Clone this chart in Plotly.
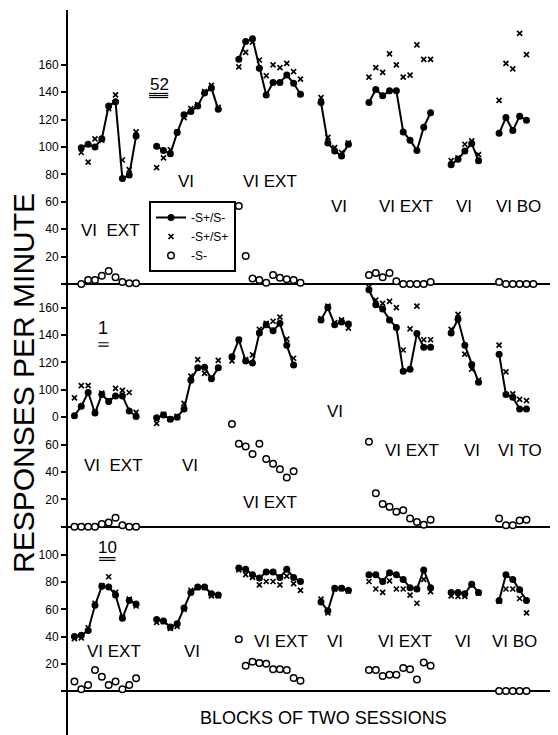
import plotly.graph_objects as go

FONT = "Liberation Sans, Arial, sans-serif"

# ---------------- Subject 52 (top panel) ----------------
P52_START = [1, 12, 24, 36, 43, 55, 62]
P52_SPSM = [
    [99.5, 102, 100, 106, 130, 133, 77, 79.5, 108],
    [100.5, 97.5, 95, 110.5, 123.5, 126, 130, 139.5, 143, 127.5],
    [164, 177, 179, 157.5, 138, 147, 147, 152.5, 146.5, 138.5],
    [132.5, 103, 97, 93.5, 102],
    [132.5, 142, 137.5, 141, 141, 111, 105, 97.5, 114.5, 125],
    [87, 91, 97, 102.5, 90],
    [110, 121.5, 112, 122.5, 119.5],
]
P52_SPSP = [
    [96, 89, 106, 105, 128, 138, 90.5, 83.5, 111],
    [85, 92, 98, 111, 121.5, 128, 131, 140.5, 145, 129],
    [158.5, 169, 176.5, 163.5, 152, 160, 158, 161, 155, 149.5],
    [136, 107, 99.5, 96, 103],
    [151, 158, 154.5, 168, 160, 151, 152.5, 174.5, 164, 164],
    [90, 92, 102, 104.5, 94.5],
    [134, 161, 157, 183, 167.5],
]
P52_SM_START = [1, 24, 43, 62]
P52_SM = [
    [0, 3, 3, 6, 9.5, 5, 1.5, 0.5, 0.5],
    [57, 20.5, 4, 3, 1, 6.5, 4.5, 3.5, 3, 1],
    [6.5, 8, 5, 8, 2, 0, 0, 0, 0, 1.5],
    [1.5, 0, 0, 0, 0, 0],
]

# ---------------- Subject 1 (middle panel) ----------------
P1_START = [0, 12, 23, 36, 43, 55, 62]
P1_SPSM = [
    [81, 88, 98, 83, 96.5, 91.5, 95.5, 95.5, 84.5, 80.5],
    [79.5, 81.5, 78.5, 80, 86, 107, 116, 116.5, 108, 116],
    [124, 136.5, 121, 119.5, 141.5, 147.5, 143, 148.5, 132.5, 118],
    [151, 160, 147.5, 149.5, 148],
    [173, 162, 159, 151, 145.5, 113.5, 115, 141, 131, 131],
    [141.5, 151.5, 132.5, 118.5, 105.5],
    [126, 96.5, 94.5, 86, 86],
]
P1_SPSP = [
    [94, 103, 103, 84, 97.5, 92, 101, 99.5, 98, 83.5],
    [75.5, 82, 78.5, 80.5, 90, 110, 122, 112, 108.5, 121.5],
    [121, 136.5, 122, 125.5, 144, 148.5, 150, 153, 137, 123],
    [152, 161, 149, 151, 145],
    [175, 165.5, 163, 164.5, 160, 129, 144.5, 161, 136.5, 136.5],
    [144, 155, 126, 115, 107],
    [132.5, 113, 97, 93, 92],
]
P1_SM_START = [0, 23, 43, 62]
P1_SM = [
    [0, 0, 0, 0, 2, 3, 6.5, 1, 0, 0],
    [75, 60.5, 58.5, 53, 60.5, 49.5, 46, 42, 36, 40.5],
    [62, 24.5, 16.5, 14.5, 11, 12, 6, 3.5, 1.5, 5],
    [6, 1, 1, 4.5, 5],
]

# ---------------- Subject 10 (bottom panel) ----------------
P10_START = [0, 12, 24, 36, 43, 55, 62]
P10_SPSM = [
    [40, 41, 44.5, 63, 77, 76.5, 70.5, 53.5, 66.5, 64],
    [52.5, 51.5, 47, 49.5, 61, 72.5, 76.5, 76.5, 71.5, 70.5],
    [90.5, 89.5, 85.5, 83, 87.5, 87.5, 83.5, 89.5, 83.5, 80.5],
    [65.5, 59, 75.5, 75.5, 74],
    [85.5, 85.5, 80.5, 87, 85.5, 82, 76, 75, 89, 76],
    [72.5, 72.5, 71.5, 78.5, 72.5],
    [66.5, 85.5, 82, 74.5, 66.5],
]
P10_SPSP = [
    [38.5, 39, 46.5, 64.5, 77.5, 84, 72.5, 54, 67.5, 62.5],
    [50.5, 51, 46, 47.5, 60, 74, 76, 76, 70, 70],
    [89, 85.5, 83.5, 78, 80.5, 80.5, 78, 84.5, 79, 74],
    [67.5, 57.5, 75, 75.5, 73.5],
    [80.5, 75, 72.5, 81, 75, 75, 70.5, 64.5, 82, 73],
    [70, 69.5, 69.5, 78, 72],
    [66, 75, 75, 68, 57.5],
]
P10_SM_START = [0, 24, 43, 62]
P10_SM = [
    [7, 1.2, 4.4, 15.4, 10.5, 4.4, 7, 1.2, 4.4, 9.3],
    [38, 18.5, 21.5, 20.5, 20, 16, 16, 15.5, 9.5, 7.5],
    [15.5, 15.5, 11, 12, 12, 17, 16, 8.5, 21, 18.5],
    [0, 0, 0, 0, 0],
]

# tick labels (as printed; the middle panel prints "0" for 80)
TOP_TICKS = [0, 20, 40, 60, 80, 100, 120, 140, 160]
TOP_TICKTEXT = ["", "20", "40", "60", "80", "100", "120", "140", "160"]
MID_TICKS = [0, 20, 40, 60, 80, 100, 120, 140, 160]
MID_TICKTEXT = ["", "20", "40", "60", "0", "100", "120", "140", "160"]
BOT_TICKS = [0, 20, 40, 60, 80, 100]
BOT_TICKTEXT = ["", "20", "40", "60", "80", "100"]

SERIES_NAMES = ["-S+/S-", "-S+/S+", "-S-"]
SUBJECTS = ["52", "1", "10"]


def joined(starts, segs):
    xs, ys = [], []
    for st, vals in zip(starts, segs):
        xs += list(range(st, st + len(vals))) + [None]
        ys += list(vals) + [None]
    return xs, ys


panels = [
    ("y", P52_START, P52_SPSM, P52_SPSP, P52_SM_START, P52_SM),
    ("y2", P1_START, P1_SPSM, P1_SPSP, P1_SM_START, P1_SM),
    ("y3", P10_START, P10_SPSM, P10_SPSP, P10_SM_START, P10_SM),
]

fig = go.Figure()
for k, (ax, st, spsm, spsp, smst, sm) in enumerate(panels):
    show = k == 0
    x1, y1 = joined(st, spsm)
    x2, y2 = joined(st, spsp)
    x3, y3 = joined(smst, sm)
    fig.add_trace(go.Scatter(
        x=x1, y=y1, yaxis=ax, mode="lines+markers", name=SERIES_NAMES[0],
        line=dict(color="black", width=2), marker=dict(size=7, color="black"),
        connectgaps=False, cliponaxis=False, showlegend=show))
    fig.add_trace(go.Scatter(
        x=x2, y=y2, yaxis=ax, mode="markers", name=SERIES_NAMES[1],
        marker=dict(size=5, symbol="x-thin", line=dict(color="black", width=1.7), color="black"),
        cliponaxis=False, showlegend=show))
    fig.add_trace(go.Scatter(
        x=x3, y=y3, yaxis=ax, mode="markers", name=SERIES_NAMES[2],
        marker=dict(size=6.5, symbol="circle", color="white", line=dict(color="black", width=1.5)),
        cliponaxis=False, showlegend=show))

# page body has an 8px margin: figure is sized so it fills the window exactly
OFF = 8
W, H = 558 - OFF, 735 - OFF


def py(p):  # window pixel row -> paper y
    return 1 - (p - OFF) / H


def px(p):  # window pixel column -> paper x (plot area 68..558 in window)
    return (p - 68) / 490


def yax(domain, rng, tv, tt):
    return dict(domain=domain, range=rng, tickvals=tv, ticktext=tt, anchor="x",
                showline=True, linecolor="black", linewidth=2, ticks="outside",
                ticklen=5, tickwidth=1.5, tickcolor="black", showgrid=False,
                zeroline=True, zerolinecolor="black", zerolinewidth=2,
                tickfont=dict(family=FONT, size=12, color="black"), fixedrange=True)


fig.update_layout(
    width=W, height=H,
    margin=dict(l=68 - OFF, r=0, t=0, b=0, autoexpand=False),
    paper_bgcolor="white", plot_bgcolor="white",
    xaxis=dict(range=[-0.94, 70.6], visible=False, anchor="y3", fixedrange=True),
    yaxis=yax([py(284), py(10)], [0, 200], TOP_TICKS, TOP_TICKTEXT),
    yaxis2=yax([py(526.7), py(284)], [0, 177.2], MID_TICKS, MID_TICKTEXT),
    yaxis3=yax([0, py(526.7)], [-32.35, 120.8], BOT_TICKS, BOT_TICKTEXT),
    legend=dict(x=px(149), y=py(201), xanchor="left", yanchor="top",
                bordercolor="black", borderwidth=2, bgcolor="white",
                font=dict(family=FONT, size=12, color="black"),
                itemwidth=30, tracegroupgap=0),
    showlegend=True,
)

# phase labels: (text, block, value, axis)
PHASE_LABELS = [
    ("VI\u00a0 EXT", 5.2, 39.4, "y"), ("VI", 16.3, 74.5, "y"), ("VI EXT", 28.5, 74.5, "y"),
    ("VI", 38.6, 56.4, "y"), ("VI EXT", 48.4, 56.4, "y"), ("VI", 56.9, 56.4, "y"),
    ("VI BO", 64.9, 56.4, "y"),
    ("VI\u00a0 EXT", 5.75, 44.7, "y2"), ("VI", 16.9, 44.7, "y2"), ("VI EXT", 28.5, 18, "y2"),
    ("VI", 38.1, 83.9, "y2"), ("VI EXT", 49.3, 55.4, "y2"), ("VI", 58.1, 55.4, "y2"),
    ("VI TO", 65.1, 55.4, "y2"),
    ("VI EXT", 5.8, 28.9, "y3"), ("VI", 17.1, 28.9, "y3"), ("VI EXT", 30.2, 36.3, "y3"),
    ("VI", 38.0, 36.3, "y3"), ("VI EXT", 48.2, 36.3, "y3"), ("VI", 56.7, 36.3, "y3"),
    ("VI BO", 64.3, 36.3, "y3"),
]
for txt, bx, by, ax in PHASE_LABELS:
    fig.add_annotation(text=txt, x=bx, y=by, xref="x", yref=ax, showarrow=False,
                       xanchor="center", yanchor="middle",
                       font=dict(family=FONT, size=17, color="black"))

# subject numbers with underlines
SUBJ_POS = [(12.4, 145.5, "y", 17), (4.2, 145.4, "y2", 18), (4.8, 105.3, "y3", 17)]
for name, (bx, by, ax, fs) in zip(SUBJECTS, SUBJ_POS):
    fig.add_annotation(text=name, x=bx, y=by, xref="x", yref=ax, showarrow=False,
                       xanchor="center", yanchor="middle",
                       font=dict(family=FONT, size=fs, color="black"))
UNDERLINES = [
    (10.9, 13.7, [139.1, 137.6, 136.1], "y"),
    (3.5, 5.0, [134.3, 131.9], "y2"),
    (3.6, 6.0, [98.0, 96.1], "y3"),
]
for x0, x1, levels, ax in UNDERLINES:
    for lv in levels:
        fig.add_shape(type="line", xref="x", yref=ax, x0=x0, x1=x1, y0=lv, y1=lv,
                      line=dict(color="black", width=1.2))

fig.add_annotation(text="BLOCKS OF TWO SESSIONS", x=px(323), y=py(718),
                   xref="paper", yref="paper", showarrow=False,
                   xanchor="center", yanchor="middle",
                   font=dict(family=FONT, size=18, color="black"))
fig.add_annotation(text="RESPONSES PER MINUTE", x=px(23), y=py(383),
                   xref="paper", yref="paper", showarrow=False, textangle=-90,
                   xanchor="center", yanchor="middle",
                   font=dict(family=FONT, size=30, color="black"))

fig.write_html("out.html")
